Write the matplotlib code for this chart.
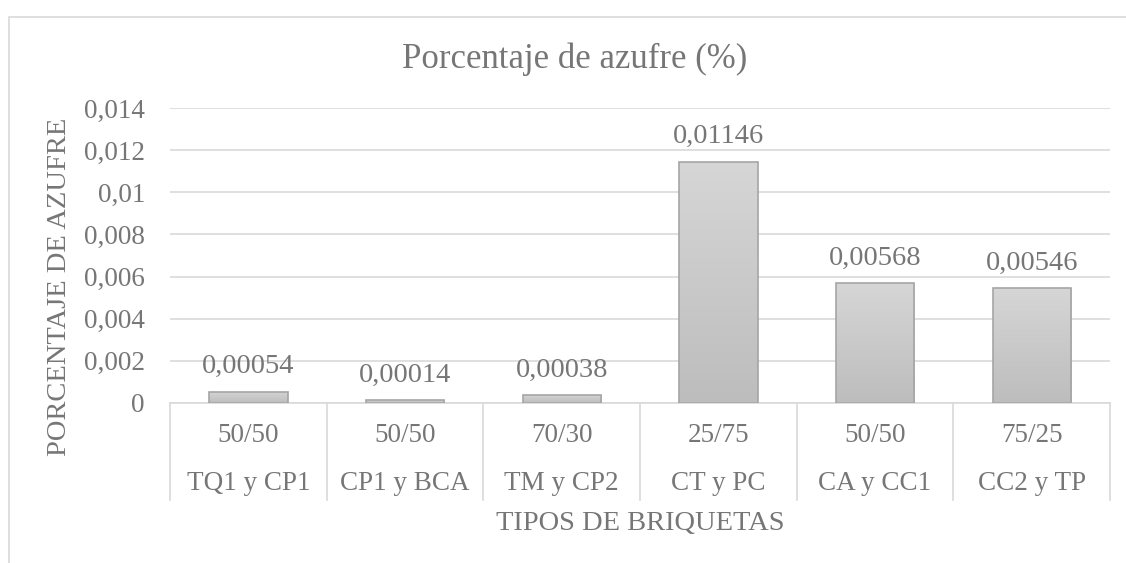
import numpy as np
import matplotlib.pyplot as plt
from matplotlib.patches import Rectangle
from matplotlib.lines import Line2D
from matplotlib.colors import LinearSegmentedColormap

# data
ratios = ["50/50", "50/50", "70/30", "25/75", "50/50", "75/25"]
mixes = ["TQ1 y CP1", "CP1 y BCA", "TM y CP2", "CT y PC", "CA y CC1", "CC2 y TP"]
azufre = [0.00054, 0.00014, 0.00038, 0.01146, 0.00568, 0.00546]
labels = ["0,00054", "0,00014", "0,00038", "0,01146", "0,00568", "0,00546"]
yticks = [0, 0.002, 0.004, 0.006, 0.008, 0.010, 0.012, 0.014]
ytick_labels = ["0", "0,002", "0,004", "0,006", "0,008", "0,01", "0,012", "0,014"]

plt.rcParams['font.family'] = ['Liberation Serif', 'DejaVu Serif']
txt = '#767676'
line = '#d9d9d9'

fig = plt.figure(figsize=(11.26, 5.63), dpi=100)
# outer chart border
fig.patches.append(Rectangle((9/1126, -0.1), 1.2, 1.1 - 17/563, transform=fig.transFigure,
                             fill=False, edgecolor=line, linewidth=1.2))

ax = fig.add_axes([170/1126, 1 - 403/563, 940/1126, 295/563])
x = np.arange(len(azufre))

# bars with vertical gradient
grad = np.linspace(0, 1, 100).reshape(-1, 1)
cmap = LinearSegmentedColormap.from_list('g', ['#bdbdbd', '#d6d6d6'])
bars = ax.bar(x, azufre, width=0.5, color='none', edgecolor='#a5a5a5', linewidth=1.2, zorder=3)
for b in bars:
    im = ax.imshow(grad, cmap=cmap, origin='lower', aspect='auto', zorder=2,
                   extent=[b.get_x(), b.get_x() + b.get_width(), 0, b.get_height()])
    im.set_clip_path(b)
ax.set_xlim(-0.5, len(azufre) - 0.5)
ax.set_ylim(0, 0.014)

for xi, v, lab in zip(x, azufre, labels):
    ax.text(xi, v + 0.00058, lab, ha='center', va='bottom', fontsize=20.5, color=txt)

ax.set_yticks(yticks)
ax.set_yticklabels(ytick_labels, fontsize=19.5, color=txt)
ax.tick_params(axis='y', length=0, pad=18)
ax.set_xticks([])
ax.grid(axis='y', color=line, linewidth=1.2, zorder=0)
ax.set_axisbelow(True)
for s in ['top', 'right', 'left']:
    ax.spines[s].set_visible(False)
ax.spines['bottom'].set_color(line)
ax.spines['bottom'].set_linewidth(1.2)

# multi-level category axis
trans = ax.get_xaxis_transform()
for i in range(len(azufre) + 1):
    ax.add_line(Line2D([i - 0.5, i - 0.5], [0, -97/295], transform=trans, color=line,
                       linewidth=1.2, clip_on=False))
for xi, r, m in zip(x, ratios, mixes):
    ax.text(xi, -32/295, r, transform=trans, ha='center', va='center', fontsize=19.5, color=txt)
    ax.text(xi, -80/295, m, transform=trans, ha='center', va='center', fontsize=19.5, color=txt)

fig.text(640/1126, 1 - 523/563, "TIPOS DE BRIQUETAS", ha='center', va='center', fontsize=20.5, color=txt)
fig.text(60/1126, 1 - 287/563, "PORCENTAJE DE AZUFRE", ha='center', va='center', rotation=90,
         fontsize=20.5, color=txt)
fig.text(575/1126, 1 - 59/563, "Porcentaje de azufre (%)", ha='center', va='center', fontsize=25, color=txt)

fig.savefig("out.png", dpi=100)
